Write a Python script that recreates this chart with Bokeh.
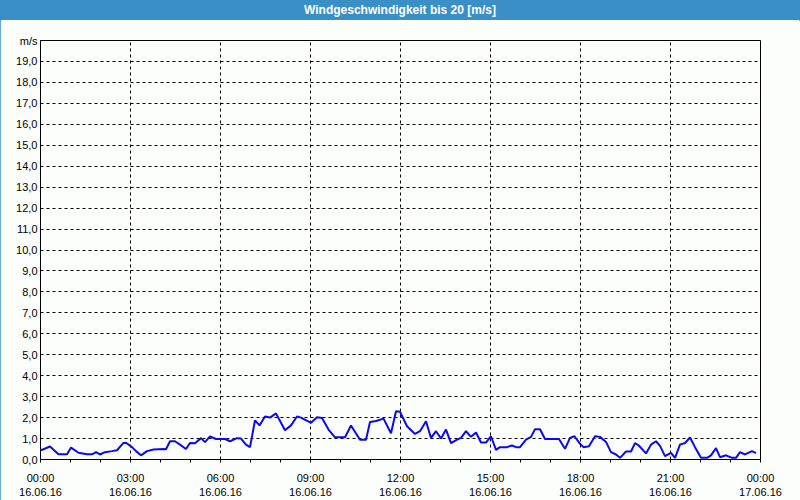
from bokeh.plotting import figure
from bokeh.models import FixedTicker, Div, ColumnDataSource, Range1d
from bokeh.layouts import column
from bokeh.embed import file_html
from bokeh.resources import INLINE

title_text = "Windgeschwindigkeit bis 20 [m/s]"
unit_label = "m/s"

minutes = [1, 19, 36, 53, 61, 76, 93, 103, 111, 119, 129, 143, 153, 166, 171, 183, 191, 201, 213, 226,
           246, 251, 259, 269, 279, 291, 299, 309, 321, 329, 339, 351, 369, 379, 393, 401, 411, 419,
           429, 438, 449, 459, 471, 489, 501, 513, 521, 541, 553, 563, 576, 589, 609, 621, 639, 651,
           659, 671, 686, 701, 711, 719, 733, 749, 759, 771, 781, 791, 801, 811, 821, 833, 841, 851,
           861, 871, 881, 891, 901, 911, 919, 933, 943, 951, 959, 971, 981, 989, 999, 1009, 1037,
           1049, 1059, 1068, 1079, 1086, 1097, 1109, 1119, 1131, 1141, 1151, 1159, 1171, 1181, 1189,
           1196, 1211, 1221, 1231, 1239, 1249, 1261, 1269, 1279, 1289, 1299, 1309, 1321, 1333, 1341,
           1351, 1359, 1371, 1383, 1391, 1399, 1409, 1423, 1431]
speed = [0.44, 0.62, 0.25, 0.25, 0.57, 0.32, 0.25, 0.25, 0.35, 0.24, 0.35, 0.40, 0.44, 0.79, 0.80, 0.59,
         0.40, 0.20, 0.40, 0.48,
         0.50, 0.49, 0.87, 0.87, 0.71, 0.50, 0.79, 0.78, 1.02, 0.83, 1.10, 0.98, 0.98, 0.87, 1.02, 1.00,
         0.71, 0.59,
         1.87, 1.63, 2.05, 2.00, 2.20, 1.40, 1.63, 2.05, 2.00, 1.75, 2.02, 1.98, 1.43, 1.06, 1.06, 1.62,
         0.94, 0.94,
         1.79, 1.84, 1.95, 1.25, 2.30, 2.28, 1.59, 1.22, 1.35, 1.83, 1.03, 1.35, 1.00, 1.43, 0.78, 0.95,
         1.03, 1.35,
         1.08, 1.29, 0.81, 0.81, 1.11, 0.46, 0.59, 0.59, 0.67, 0.59, 0.59, 0.95, 1.08, 1.44, 1.44, 0.98,
         0.98,
         0.51, 1.03, 1.11, 0.75, 0.59, 0.63, 1.11, 1.08, 0.84, 0.35, 0.24, 0.08, 0.38, 0.38, 0.78,
         0.68, 0.29, 0.71, 0.87, 0.65, 0.16, 0.32, 0.08, 0.71, 0.79, 1.05, 0.59, 0.08, 0.08, 0.20,
         0.54, 0.11, 0.20, 0.08, 0.08, 0.35, 0.24, 0.40, 0.30]

x_tick_hours = [0, 3, 6, 9, 12, 15, 18, 21, 24]
x_tick_labels = ["00:00\n16.06.16", "03:00\n16.06.16", "06:00\n16.06.16", "09:00\n16.06.16",
                 "12:00\n16.06.16", "15:00\n16.06.16", "18:00\n16.06.16", "21:00\n16.06.16",
                 "00:00\n17.06.16"]
x_minor_hours = list(range(0, 25))
y_ticks = list(range(0, 21))
y_tick_labels = [f"{v},0" for v in range(0, 20)] + [unit_label]

hours = [m / 60.0 for m in minutes]
src = ColumnDataSource(dict(x=hours, y=speed))

BG = "#fcfefc"
BLUE_BAR = "#3b8fc7"
FONT = "Liberation Sans"
W = 800

header = Div(text=title_text, width=W, height=20, margin=0,
             styles={"background-color": BLUE_BAR, "color": "white", "font-weight": "bold",
                     "font-family": FONT, "font-size": "12px", "text-align": "center",
                     "line-height": "20px", "width": f"{W}px", "height": "20px", "margin": "0",
                     "padding": "0"})

p = figure(width=W, height=480, output_backend="svg", toolbar_location=None,
           x_range=Range1d(0, 24), y_range=Range1d(0, 20), margin=0,
           min_border_left=40, min_border_right=40, min_border_top=20, min_border_bottom=40)
p.background_fill_color = BG
p.border_fill_color = BG
p.outline_line_color = "black"
p.outline_line_width = 1

p.line("x", "y", source=src, line_color="#0a0af0", line_width=2)

p.xaxis.ticker = FixedTicker(ticks=x_tick_hours, minor_ticks=x_minor_hours)
p.xaxis.major_label_overrides = {h: l for h, l in zip(x_tick_hours, x_tick_labels)}
p.yaxis.ticker = FixedTicker(ticks=y_ticks)
p.yaxis.major_label_overrides = {t: l for t, l in zip(y_ticks, y_tick_labels)}

for ax in (p.xaxis[0], p.yaxis[0]):
    ax.axis_line_color = "black"
    ax.major_tick_line_color = "black"
    ax.minor_tick_line_color = "black"
    ax.major_label_text_font = FONT
    ax.major_label_text_font_size = "11px"
    ax.major_label_text_color = "black"
    ax.major_tick_out = 0
    ax.major_tick_in = 0

p.xaxis.minor_tick_out = 3
p.xaxis.minor_tick_in = 0
p.xaxis.major_label_standoff = 9
p.yaxis.minor_tick_out = 0
p.yaxis.minor_tick_in = 0
p.yaxis.major_label_standoff = 3

for g in (p.xgrid[0], p.ygrid[0]):
    g.grid_line_color = "black"
    g.grid_line_dash = "3 3"
    g.grid_line_width = 1

layout = column(header, p, spacing=0, margin=0,
                styles={"outline": f"1px solid {BLUE_BAR}", "outline-offset": "-1px"})
open("out.html", "w").write(file_html(layout, INLINE))
